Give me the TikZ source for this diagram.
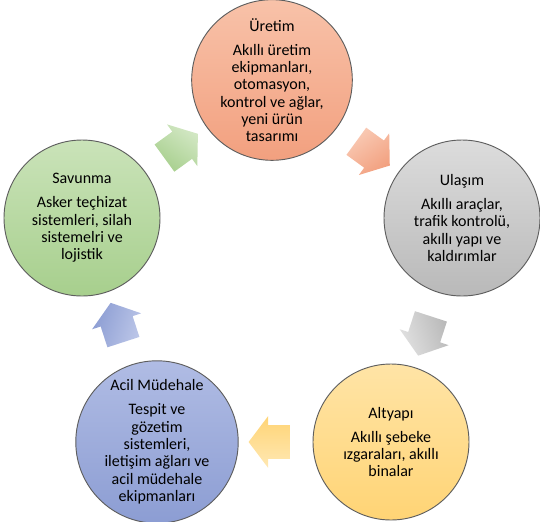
\documentclass[tikz,border=0pt]{standalone}
\usepackage{fontspec}
\setmainfont{Carlito}
\usetikzlibrary{shapes.arrows}
\definecolor{uretimTop}{HTML}{F8C2A9}
\definecolor{uretimBot}{HTML}{F2A07F}
\definecolor{ulasimTop}{HTML}{DCDCDC}
\definecolor{ulasimBot}{HTML}{B9B9B9}
\definecolor{altyapiTop}{HTML}{FFE4A6}
\definecolor{altyapiBot}{HTML}{FFD475}
\definecolor{acilTop}{HTML}{B0BCE4}
\definecolor{acilBot}{HTML}{8C9DD3}
\definecolor{savunmaTop}{HTML}{CAE3B9}
\definecolor{savunmaBot}{HTML}{A7CF8D}
\definecolor{rim}{HTML}{5E5E5E}

\begin{document}
\begin{tikzpicture}[x=0.75pt,y=-0.75pt,
  phase/.style={circle,draw=rim,line width=0.7pt,minimum size=117pt,inner sep=0pt,
                align=center,font=\fontsize{12}{13}\selectfont},
  flow/.style={single arrow,draw=none,inner xsep=0pt,inner ysep=12.4pt,minimum height=31pt,
               single arrow head extend=6.75pt,single arrow tip angle=106}]
  \useasboundingbox (0,0) rectangle (540,522);
  % circles
  \node[phase,top color=uretimTop,bottom color=uretimBot] (uretim) at (272,80)
       {Üretim\\[5pt]Akıllı üretim\\ekipmanları,\\otomasyon,\\kontrol ve ağlar,\\yeni ürün\\tasarımı};
  \node[phase,top color=ulasimTop,bottom color=ulasimBot] (ulasim) at (462,218)
       {Ulaşım\\[5pt]Akıllı araçlar,\\trafik kontrolü,\\akıllı yapı ve\\kaldırımlar};
  \node[phase,top color=altyapiTop,bottom color=altyapiBot] (altyapi) at (391,442)
       {Altyapı\\[5pt]Akıllı şebeke\\ızgaraları, akıllı\\binalar};
  \node[phase,top color=acilTop,bottom color=acilBot] (acil) at (157,442)
       {Acil Müdehale\\[5pt]Tespit ve\\gözetim\\sistemleri,\\iletişim ağları ve\\acil müdehale\\ekipmanları};
  \node[phase,top color=savunmaTop,bottom color=savunmaBot] (savunma) at (82,218)
       {Savunma\\[5pt]Asker teçhizat\\sistemleri, silah\\sistemelri ve\\lojistik};
  % block arrows between the circles
  \foreach \from/\to/\ang in {savunma/uretim/36,uretim/ulasim/-36,ulasim/altyapi/-108,
                              altyapi/acil/180,acil/savunma/108}
    \path (\from) -- (\to) node[midway,flow,rotate=\ang,
          top color=\from Top!85,bottom color=\from Bot,shading angle=-\ang] {};
\end{tikzpicture}
\end{document}
